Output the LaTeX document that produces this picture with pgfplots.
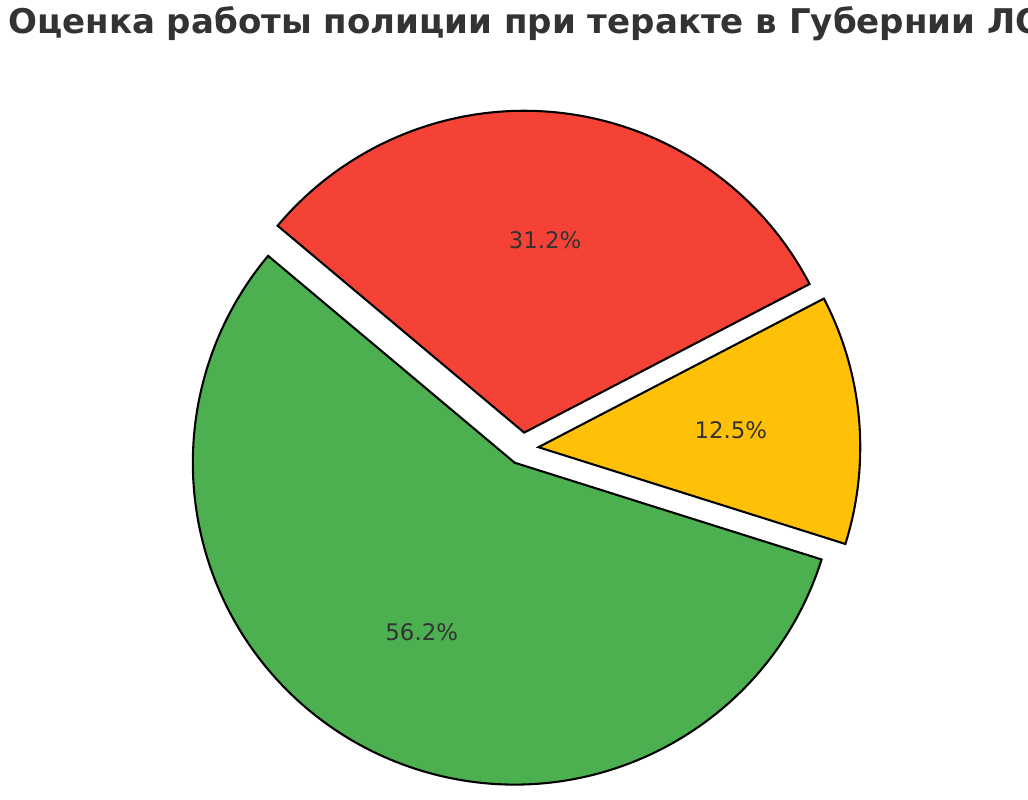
\documentclass[border=0pt]{standalone}
\usepackage{pgfplots}
\usepackage{pgfplotstable}
\pgfplotsset{compat=1.18}
\usepackage{fontspec}
\setmainfont{DejaVu Sans}

\definecolor{pieRed}{HTML}{F44336}
\definecolor{pieYellow}{HTML}{FFC107}
\definecolor{pieGreen}{HTML}{4CAF50}
\definecolor{txt}{HTML}{333333}

% slices in drawing order (clockwise from 140 deg)
\pgfplotstableread{
name value pct col
a 5 31.2 pieRed
b 2 12.5 pieYellow
c 9 56.2 pieGreen
}\piedata

% pie geometry in pixel units of the axis
\def\pcx{522.4}
\def\pcy{351.4}
\def\prad{322}
\def\pexp{16.1}
\def\pstart{140}

\pgfplotstablegetrowsof{\piedata}
\pgfmathtruncatemacro\pien{\pgfplotsretval-1}
\xdef\pietotal{0}
\foreach \i in {0,...,\pien}{%
  \pgfplotstablegetelem{\i}{value}\of\piedata
  \pgfmathsetmacro\t{\pietotal+\pgfplotsretval}%
  \xdef\pietotal{\t}}
\xdef\pieang{\pstart}
\foreach \i in {0,...,\pien}{%
  \pgfplotstablegetelem{\i}{value}\of\piedata
  \let\v\pgfplotsretval
  \pgfplotstablegetelem{\i}{pct}\of\piedata
  \expandafter\xdef\csname pieP\i\endcsname{\pgfplotsretval}%
  \pgfplotstablegetelem{\i}{col}\of\piedata
  \expandafter\xdef\csname pieC\i\endcsname{\pgfplotsretval}%
  \pgfmathsetmacro\sweep{360*\v/\pietotal}%
  \pgfmathsetmacro\aend{\pieang-\sweep}%
  \pgfmathsetmacro\amid{\pieang-\sweep/2}%
  \pgfmathsetmacro\ox{\pcx+\pexp*cos(\amid)}%
  \pgfmathsetmacro\oy{\pcy+\pexp*sin(\amid)}%
  \pgfmathsetmacro\lx{\ox+0.6*\prad*cos(\amid)}%
  \pgfmathsetmacro\ly{\oy+0.6*\prad*sin(\amid)}%
  \expandafter\xdef\csname pieS\i\endcsname{\pieang}%
  \expandafter\xdef\csname pieE\i\endcsname{\aend}%
  \expandafter\xdef\csname pieX\i\endcsname{\ox}%
  \expandafter\xdef\csname pieY\i\endcsname{\oy}%
  \expandafter\xdef\csname pieLX\i\endcsname{\lx}%
  \expandafter\xdef\csname pieLY\i\endcsname{\ly}%
  \xdef\pieang{\aend}}

\begin{document}
\begin{tikzpicture}
\useasboundingbox (0,0) rectangle (10.28in,8in);
\clip (0,0) rectangle (10.28in,8in);
\begin{axis}[
    at={(0,0)}, anchor=south west,
    scale only axis, width=10.28in, height=8in,
    xmin=0, xmax=1028, ymin=0, ymax=800,
    hide axis, clip=false,
    ]
    \pgfplotsinvokeforeach{0,...,\pien}{
        \filldraw[fill=\csname pieC#1\endcsname, draw=black, line width=1.5pt, line join=miter]
            (axis cs:\csname pieX#1\endcsname,\csname pieY#1\endcsname)
            -- ++(\csname pieS#1\endcsname:\prad*0.01in)
            arc[start angle=\csname pieS#1\endcsname, end angle=\csname pieE#1\endcsname, radius=\prad*0.01in]
            -- cycle;
        \node[text=txt, font=\fontsize{16.5}{20}\selectfont, inner sep=0pt]
            at (axis cs:\csname pieLX#1\endcsname,\csname pieLY#1\endcsname)
            {\csname pieP#1\endcsname\%};
    }
    \node[anchor=base west, inner sep=0pt, text=txt, font=\fontsize{24.6}{28}\selectfont\bfseries]
        at (axis cs:8,766.5) {Оценка работы полиции при теракте в Губернии ЛО};
\end{axis}
\end{tikzpicture}
\end{document}
